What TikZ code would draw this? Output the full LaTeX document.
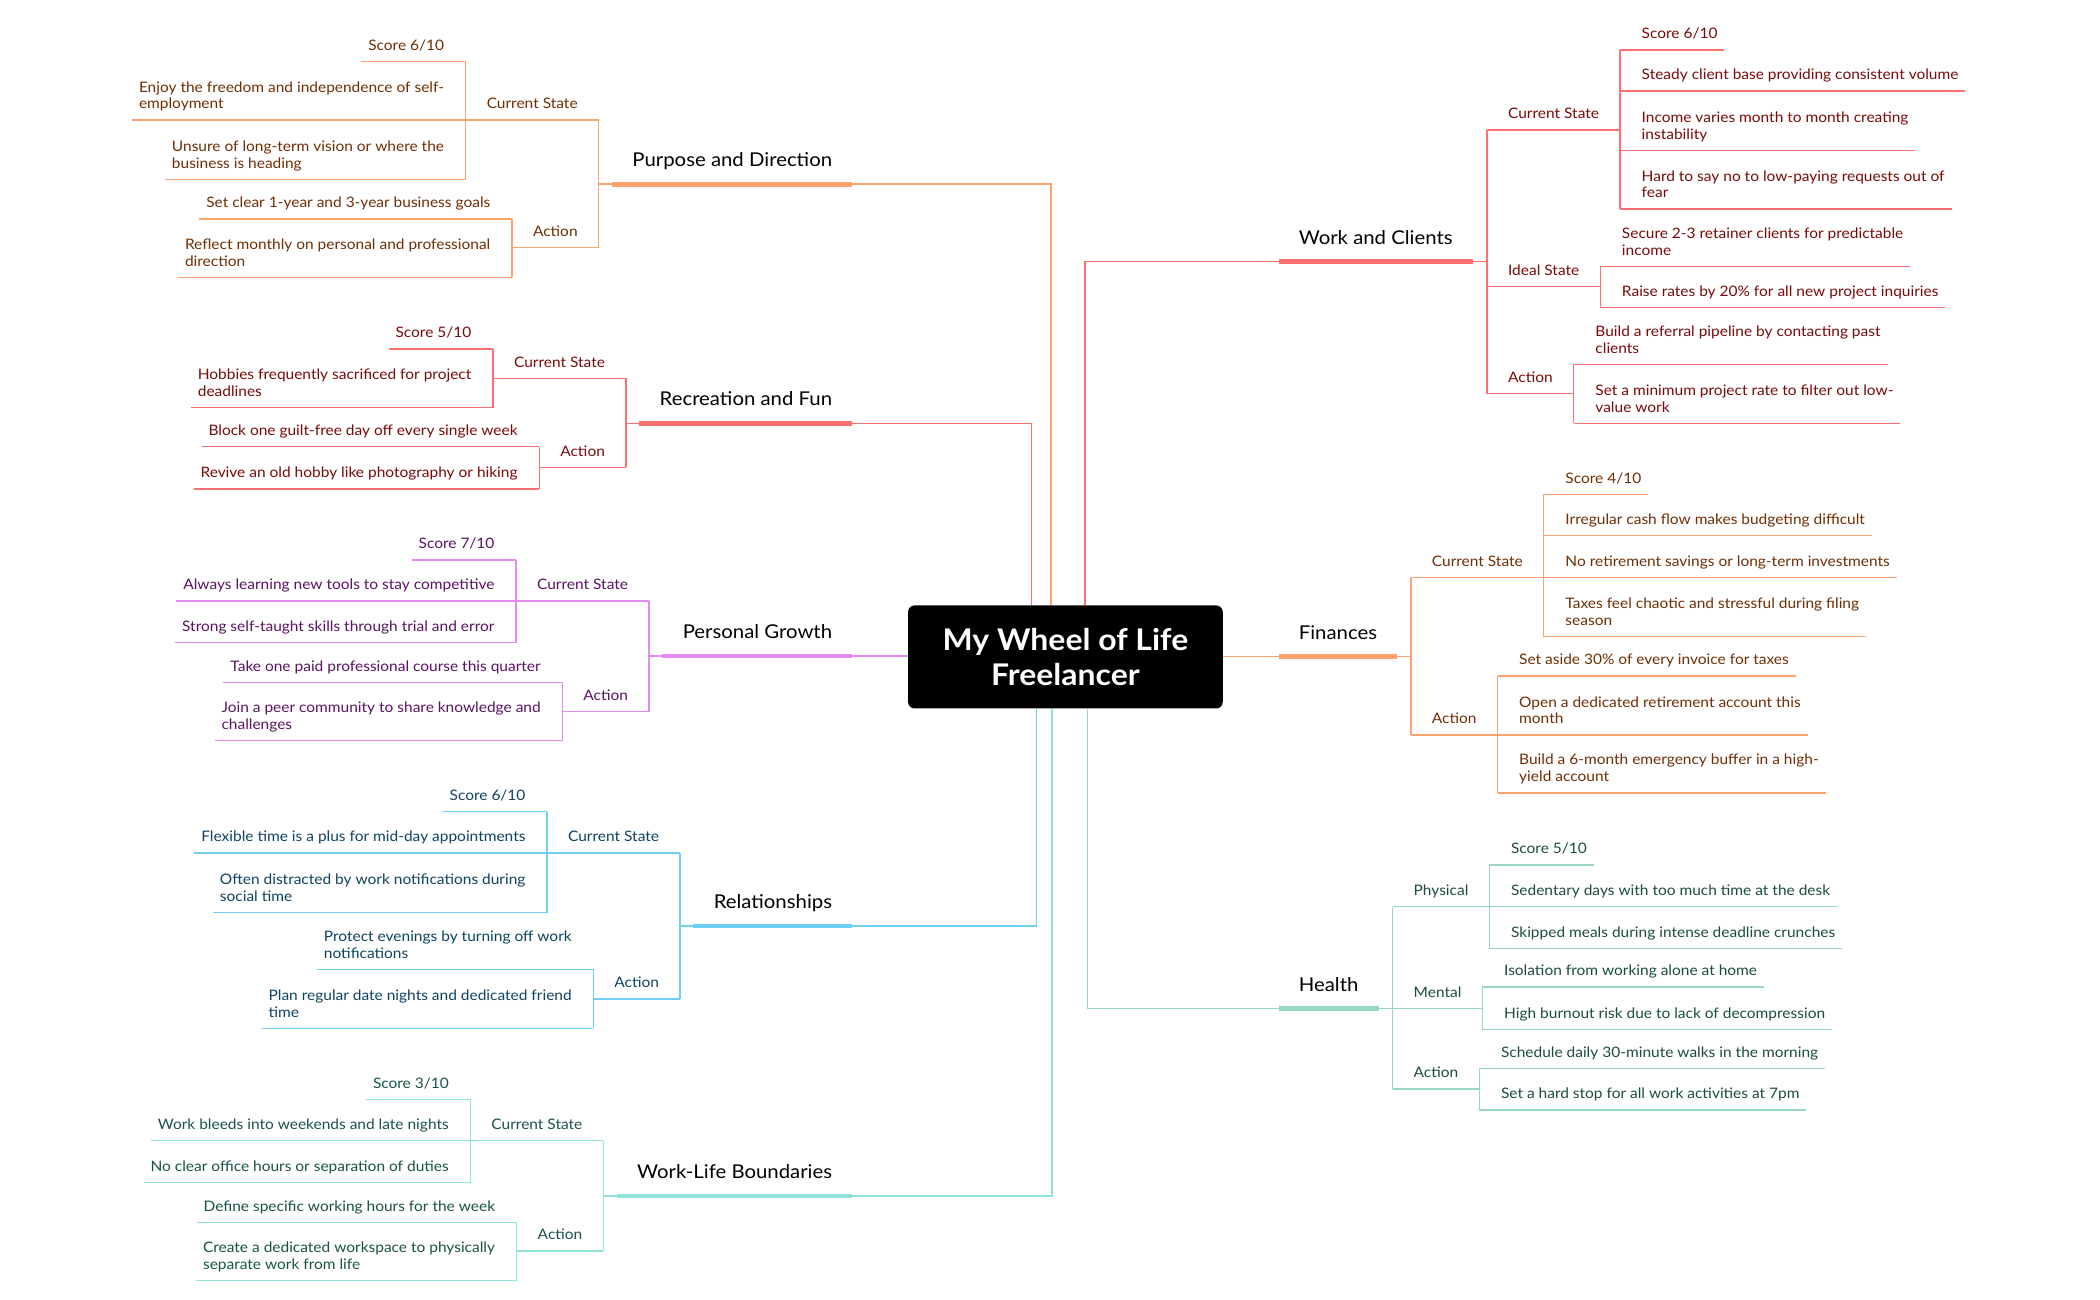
\documentclass[tikz,border=0pt]{standalone}
\usepackage{fontspec}
\setmainfont{Lato}[FakeStretch=1.07]
\usetikzlibrary{calc}
\definecolor{lOr}{HTML}{FFA26F}
\definecolor{lRd}{HTML}{FF6F6F}
\definecolor{lVi}{HTML}{E48BEF}
\definecolor{lBl}{HTML}{70CFF7}
\definecolor{lTe}{HTML}{8FE3D9}
\definecolor{lGr}{HTML}{97D8BF}
\definecolor{tOr}{HTML}{6F2E05}
\definecolor{tRd}{HTML}{780A0A}
\definecolor{tVi}{HTML}{5A1263}
\definecolor{tBl}{HTML}{0E4360}
\definecolor{tTe}{HTML}{195248}
\definecolor{tGr}{HTML}{1B4D3A}
\newcommand\myleaffont{\fontsize{10.8}{12.5}\selectfont}
\newcommand\myheadfont{\fontsize{14.2}{17}\selectfont}
\tikzset{
  conn/.style={draw=#1, line width=1pt},
  lvbar/.style={draw=#1, line width=3.5pt},
  leafL/.style={font=\myleaffont, text=#1, align=left, inner xsep=5pt, inner ysep=4.4pt, anchor=south east, execute at end node=\strut},
  leafR/.style={font=\myleaffont, text=#1, align=left, inner xsep=5pt, inner ysep=4.4pt, anchor=south west, execute at end node=\strut},
  lvtwoL/.style={font=\myleaffont, text=#1, inner xsep=15.5pt, inner ysep=4.4pt, anchor=south east, execute at end node=\strut},
  lvtwoR/.style={font=\myleaffont, text=#1, inner xsep=15.5pt, inner ysep=4.4pt, anchor=south west, execute at end node=\strut},
  lvoneL/.style={font=\myheadfont, text=black, inner xsep=15pt, inner ysep=7.6pt, anchor=south east, execute at end node=\strut},
  lvoneR/.style={font=\myheadfont, text=black, inner xsep=15pt, inner ysep=7.6pt, anchor=south west, execute at end node=\strut},
  rootbox/.style={fill=black, rounded corners=5pt, text=white, font=\fontsize{22.3}{26}\selectfont\bfseries, align=center, minimum width=235pt, minimum height=77pt, inner sep=0pt}
}
\begin{document}
\begin{tikzpicture}[x=1pt,y=-1pt]
\fill[white] (0,0) rectangle (1568,970);
\useasboundingbox (0,0) rectangle (1568,970);

\node[rootbox] (root) at (795.5,490.5) {My Wheel of Life\\Freelancer};

% ===== LEFT: Purpose and Direction =====
\node[lvoneL] (pd) at (636.5,137.5) {Purpose and Direction};
\coordinate (pdS) at ($(pd.south west)+(-10,0)$);
\node[lvtwoL=tOr] (pdc) at (pdS |- 0,89.6) {Current State};
\node[lvtwoL=tOr] (pda) at (pdS |- 0,185) {Action};
\node[leafL=tOr, xshift=-11pt] (pdc1) at (pdc.south west |- 0,46) {Score 6/10};
\node[leafL=tOr, xshift=-11pt] (pdc2) at (pdc.south west |- 0,89.6) {Enjoy the freedom and independence of self-\\employment};
\node[leafL=tOr, xshift=-11pt] (pdc3) at (pdc.south west |- 0,133.8) {Unsure of long-term vision or where the\\business is heading};
\node[leafL=tOr, xshift=-11pt] (pda1) at (pda.south west |- 0,163.5) {Set clear 1-year and 3-year business goals};
\node[leafL=tOr, xshift=-11pt] (pda2) at (pda.south west |- 0,207) {Reflect monthly on personal and professional\\direction};

% ===== LEFT: Recreation and Fun =====
\node[lvoneL] (rf) at (636.5,316) {Recreation and Fun};
\coordinate (rfS) at ($(rf.south west)+(-10,0)$);
\node[lvtwoL=tRd] (rfc) at (rfS |- 0,282.5) {Current State};
\node[lvtwoL=tRd] (rfa) at (rfS |- 0,349) {Action};
\node[leafL=tRd, xshift=-11pt] (rfc1) at (rfc.south west |- 0,260.6) {Score 5/10};
\node[leafL=tRd, xshift=-11pt] (rfc2) at (rfc.south west |- 0,304.4) {Hobbies frequently sacrificed for project\\deadlines};
\node[leafL=tRd, xshift=-11pt] (rfa1) at (rfa.south west |- 0,333.5) {Block one guilt-free day off every single week};
\node[leafL=tRd, xshift=-11pt] (rfa2) at (rfa.south west |- 0,365) {Revive an old hobby like photography or hiking};

% ===== LEFT: Personal Growth =====
\node[lvoneL] (pg) at (636.5,489.8) {Personal Growth};
\coordinate (pgS) at ($(pg.south west)+(-10,0)$);
\node[lvtwoL=tVi] (pgc) at (pgS |- 0,448.7) {Current State};
\node[lvtwoL=tVi] (pga) at (pgS |- 0,531.4) {Action};
\node[leafL=tVi, xshift=-11pt] (pgc1) at (pgc.south west |- 0,418) {Score 7/10};
\node[leafL=tVi, xshift=-11pt] (pgc2) at (pgc.south west |- 0,448.7) {Always learning new tools to stay competitive};
\node[leafL=tVi, xshift=-11pt] (pgc3) at (pgc.south west |- 0,479.9) {Strong self-taught skills through trial and error};
\node[leafL=tVi, xshift=-11pt] (pga1) at (pga.south west |- 0,509.5) {Take one paid professional course this quarter};
\node[leafL=tVi, xshift=-11pt] (pga2) at (pga.south west |- 0,553) {Join a peer community to share knowledge and\\challenges};

% ===== LEFT: Relationships =====
\node[lvoneL] (rs) at (636.5,691.4) {Relationships};
\coordinate (rsS) at ($(rs.south west)+(-10,0)$);
\node[lvtwoL=tBl] (rsc) at (rsS |- 0,637) {Current State};
\node[lvtwoL=tBl] (rsa) at (rsS |- 0,746) {Action};
\node[leafL=tBl, xshift=-11pt] (rsc1) at (rsc.south west |- 0,606) {Score 6/10};
\node[leafL=tBl, xshift=-11pt] (rsc2) at (rsc.south west |- 0,637) {Flexible time is a plus for mid-day appointments};
\node[leafL=tBl, xshift=-11pt] (rsc3) at (rsc.south west |- 0,681.5) {Often distracted by work notifications during\\social time};
\node[leafL=tBl, xshift=-11pt] (rsa1) at (rsa.south west |- 0,723.7) {Protect evenings by turning off work\\notifications};
\node[leafL=tBl, xshift=-11pt] (rsa2) at (rsa.south west |- 0,767.8) {Plan regular date nights and dedicated friend\\time};

% ===== LEFT: Work-Life Boundaries =====
\node[lvoneL] (wl) at (636.5,893) {Work-Life Boundaries};
\coordinate (wlS) at ($(wl.south west)+(-10,0)$);
\node[lvtwoL=tTe] (wlc) at (wlS |- 0,851.7) {Current State};
\node[lvtwoL=tTe] (wla) at (wlS |- 0,934) {Action};
\node[leafL=tTe, xshift=-11pt] (wlc1) at (wlc.south west |- 0,820.8) {Score 3/10};
\node[leafL=tTe, xshift=-11pt] (wlc2) at (wlc.south west |- 0,851.7) {Work bleeds into weekends and late nights};
\node[leafL=tTe, xshift=-11pt] (wlc3) at (wlc.south west |- 0,883) {No clear office hours or separation of duties};
\node[leafL=tTe, xshift=-11pt] (wla1) at (wla.south west |- 0,912.6) {Define specific working hours for the week};
\node[leafL=tTe, xshift=-11pt] (wla2) at (wla.south west |- 0,956.2) {Create a dedicated workspace to physically\\separate work from life};

% ===== RIGHT: Work and Clients =====
\node[lvoneR] (wc) at (954.6,195.4) {Work and Clients};
\coordinate (wcS) at ($(wc.south east)+(10.5,0)$);
\node[lvtwoR=tRd] (wcc) at (wcS |- 0,97) {Current State};
\node[lvtwoR=tRd] (wci) at (wcS |- 0,214) {Ideal State};
\node[lvtwoR=tRd] (wca) at (wcS |- 0,294) {Action};
\node[leafR=tRd, xshift=11pt] (wcc1) at (wcc.south east |- 0,37.3) {Score 6/10};
\node[leafR=tRd, xshift=11pt] (wcc2) at (wcc.south east |- 0,68) {Steady client base providing consistent volume};
\node[leafR=tRd, xshift=11pt] (wcc3) at (wcc.south east |- 0,112.5) {Income varies month to month creating\\instability};
\node[leafR=tRd, xshift=11pt] (wcc4) at (wcc.south east |- 0,156) {Hard to say no to low-paying requests out of\\fear};
\node[leafR=tRd, xshift=11pt] (wci1) at (wci.south east |- 0,199) {Secure 2-3 retainer clients for predictable\\income};
\node[leafR=tRd, xshift=11pt] (wci2) at (wci.south east |- 0,229.7) {Raise rates by 20\% for all new project inquiries};
\node[leafR=tRd, xshift=11pt] (wca1) at (wca.south east |- 0,272) {Build a referral pipeline by contacting past\\clients};
\node[leafR=tRd, xshift=11pt] (wca2) at (wca.south east |- 0,316) {Set a minimum project rate to filter out low-\\value work};

% ===== RIGHT: Finances =====
\node[lvoneR] (fi) at (954.6,490.3) {Finances};
\coordinate (fiS) at ($(fi.south east)+(10,0)$);
\node[lvtwoR=tOr] (fic) at (fiS |- 0,431.3) {Current State};
\node[lvtwoR=tOr] (fia) at (fiS |- 0,548.8) {Action};
\node[leafR=tOr, xshift=11pt] (fic1) at (fic.south east |- 0,369) {Score 4/10};
\node[leafR=tOr, xshift=11pt] (fic2) at (fic.south east |- 0,400) {Irregular cash flow makes budgeting difficult};
\node[leafR=tOr, xshift=11pt] (fic3) at (fic.south east |- 0,431.3) {No retirement savings or long-term investments};
\node[leafR=tOr, xshift=11pt] (fic4) at (fic.south east |- 0,475.4) {Taxes feel chaotic and stressful during filing\\season};
\node[leafR=tOr, xshift=11pt] (fia1) at (fia.south east |- 0,504.7) {Set aside 30\% of every invoice for taxes};
\node[leafR=tOr, xshift=11pt] (fia2) at (fia.south east |- 0,548.8) {Open a dedicated retirement account this\\month};
\node[leafR=tOr, xshift=11pt] (fia3) at (fia.south east |- 0,592) {Build a 6-month emergency buffer in a high-\\yield account};

% ===== RIGHT: Health =====
\node[lvoneR] (he) at (954.6,752.9) {Health};
\coordinate (heS) at ($(he.south east)+(10.4,0)$);
\node[lvtwoR=tGr] (hep) at (heS |- 0,677) {Physical};
\node[lvtwoR=tGr] (hem) at (heS |- 0,752.9) {Mental};
\node[lvtwoR=tGr] (hea) at (heS |- 0,813) {Action};
\node[leafR=tGr, xshift=11pt] (hep1) at (hep.south east |- 0,645.9) {Score 5/10};
\node[leafR=tGr, xshift=11pt] (hep2) at (hep.south east |- 0,677) {Sedentary days with too much time at the desk};
\node[leafR=tGr, xshift=11pt] (hep3) at (hep.south east |- 0,708) {Skipped meals during intense deadline crunches};
\node[leafR=tGr, xshift=11pt] (hem1) at (hem.south east |- 0,737) {Isolation from working alone at home};
\node[leafR=tGr, xshift=11pt] (hem2) at (hem.south east |- 0,768.5) {High burnout risk due to lack of decompression};
\node[leafR=tGr, xshift=11pt] (hea1) at (hea.south east |- 0,797.7) {Schedule daily 30-minute walks in the morning};
\node[leafR=tGr, xshift=11pt] (hea2) at (hea.south east |- 0,828.8) {Set a hard stop for all work activities at 7pm};

% ===== CONNECTORS LEFT =====
% Purpose
\draw[conn=lOr] (pd.south east) -| (root.north -| 784.7,0);
\draw[conn=lOr] (pd.south west) -- (pdS);
\draw[conn=lOr] (pdc.south east) -- (pda.south east);
\foreach \n in {pdc,pda} \draw[conn=lOr] (\n.south west) -- (\n.south east);
\foreach \n in {pdc1,pdc2,pdc3} \draw[conn=lOr] (\n.south west) -- (\n.south -| pdc.south west);
\draw[conn=lOr] (pdc1.south -| pdc.south west) -- (pdc3.south -| pdc.south west);
\foreach \n in {pda1,pda2} \draw[conn=lOr] (\n.south west) -- (\n.south -| pda.south west);
\draw[conn=lOr] (pda1.south -| pda.south west) -- (pda2.south -| pda.south west);
\draw[lvbar=lOr] (pd.south west) -- (pd.south east);
% Recreation
\draw[conn=lRd] (rf.south east) -| (root.north -| 770,0);
\draw[conn=lRd] (rf.south west) -- (rfS);
\draw[conn=lRd] (rfc.south east) -- (rfa.south east);
\foreach \n in {rfc,rfa} \draw[conn=lRd] (\n.south west) -- (\n.south east);
\foreach \n in {rfc1,rfc2} \draw[conn=lRd] (\n.south west) -- (\n.south -| rfc.south west);
\draw[conn=lRd] (rfc1.south -| rfc.south west) -- (rfc2.south -| rfc.south west);
\foreach \n in {rfa1,rfa2} \draw[conn=lRd] (\n.south west) -- (\n.south -| rfa.south west);
\draw[conn=lRd] (rfa1.south -| rfa.south west) -- (rfa2.south -| rfa.south west);
\draw[lvbar=lRd] (rf.south west) -- (rf.south east);
% Personal Growth
\draw[conn=lVi] (pg.south east) -- (pg.south east -| root.west);
\draw[conn=lVi] (pg.south west) -- (pgS);
\draw[conn=lVi] (pgc.south east) -- (pga.south east);
\foreach \n in {pgc,pga} \draw[conn=lVi] (\n.south west) -- (\n.south east);
\foreach \n in {pgc1,pgc2,pgc3} \draw[conn=lVi] (\n.south west) -- (\n.south -| pgc.south west);
\draw[conn=lVi] (pgc1.south -| pgc.south west) -- (pgc3.south -| pgc.south west);
\foreach \n in {pga1,pga2} \draw[conn=lVi] (\n.south west) -- (\n.south -| pga.south west);
\draw[conn=lVi] (pga1.south -| pga.south west) -- (pga2.south -| pga.south west);
\draw[lvbar=lVi] (pg.south west) -- (pg.south east);
% Relationships
\draw[conn=lBl] (rs.south east) -| (root.south -| 774,0);
\draw[conn=lBl] (rs.south west) -- (rsS);
\draw[conn=lBl] (rsc.south east) -- (rsa.south east);
\foreach \n in {rsc,rsa} \draw[conn=lBl] (\n.south west) -- (\n.south east);
\foreach \n in {rsc1,rsc2,rsc3} \draw[conn=lBl] (\n.south west) -- (\n.south -| rsc.south west);
\draw[conn=lBl] (rsc1.south -| rsc.south west) -- (rsc3.south -| rsc.south west);
\foreach \n in {rsa1,rsa2} \draw[conn=lBl] (\n.south west) -- (\n.south -| rsa.south west);
\draw[conn=lBl] (rsa1.south -| rsa.south west) -- (rsa2.south -| rsa.south west);
\draw[lvbar=lBl] (rs.south west) -- (rs.south east);
% Work-Life
\draw[conn=lTe] (wl.south east) -| (root.south -| 785.5,0);
\draw[conn=lTe] (wl.south west) -- (wlS);
\draw[conn=lTe] (wlc.south east) -- (wla.south east);
\foreach \n in {wlc,wla} \draw[conn=lTe] (\n.south west) -- (\n.south east);
\foreach \n in {wlc1,wlc2,wlc3} \draw[conn=lTe] (\n.south west) -- (\n.south -| wlc.south west);
\draw[conn=lTe] (wlc1.south -| wlc.south west) -- (wlc3.south -| wlc.south west);
\foreach \n in {wla1,wla2} \draw[conn=lTe] (\n.south west) -- (\n.south -| wla.south west);
\draw[conn=lTe] (wla1.south -| wla.south west) -- (wla2.south -| wla.south west);
\draw[lvbar=lTe] (wl.south west) -- (wl.south east);

% ===== CONNECTORS RIGHT =====
% Work and Clients
\draw[conn=lRd] (wc.south west) -| (root.north -| 810,0);
\draw[conn=lRd] (wc.south east) -- (wcS);
\draw[conn=lRd] (wcc.south west) -- (wca.south west);
\foreach \n in {wcc,wci,wca} \draw[conn=lRd] (\n.south west) -- (\n.south east);
\foreach \n in {wcc1,wcc2,wcc3,wcc4} \draw[conn=lRd] (\n.south east) -- (\n.south -| wcc.south east);
\draw[conn=lRd] (wcc1.south -| wcc.south east) -- (wcc4.south -| wcc.south east);
\foreach \n in {wci1,wci2} \draw[conn=lRd] (\n.south east) -- (\n.south -| wci.south east);
\draw[conn=lRd] (wci1.south -| wci.south east) -- (wci2.south -| wci.south east);
\foreach \n in {wca1,wca2} \draw[conn=lRd] (\n.south east) -- (\n.south -| wca.south east);
\draw[conn=lRd] (wca1.south -| wca.south east) -- (wca2.south -| wca.south east);
\draw[lvbar=lRd] (wc.south west) -- (wc.south east);
% Finances
\draw[conn=lOr] (fi.south west -| root.east) -- (fi.south west);
\draw[conn=lOr] (fi.south east) -- (fiS);
\draw[conn=lOr] (fic.south west) -- (fia.south west);
\foreach \n in {fic,fia} \draw[conn=lOr] (\n.south west) -- (\n.south east);
\foreach \n in {fic1,fic2,fic3,fic4} \draw[conn=lOr] (\n.south east) -- (\n.south -| fic.south east);
\draw[conn=lOr] (fic1.south -| fic.south east) -- (fic4.south -| fic.south east);
\foreach \n in {fia1,fia2,fia3} \draw[conn=lOr] (\n.south east) -- (\n.south -| fia.south east);
\draw[conn=lOr] (fia1.south -| fia.south east) -- (fia3.south -| fia.south east);
\draw[lvbar=lOr] (fi.south west) -- (fi.south east);
% Health
\draw[conn=lGr] (he.south west) -| (root.south -| 812,0);
\draw[conn=lGr] (he.south east) -- (heS);
\draw[conn=lGr] (hep.south west) -- (hea.south west);
\foreach \n in {hep,hem,hea} \draw[conn=lGr] (\n.south west) -- (\n.south east);
\foreach \n in {hep1,hep2,hep3} \draw[conn=lGr] (\n.south east) -- (\n.south -| hep.south east);
\draw[conn=lGr] (hep1.south -| hep.south east) -- (hep3.south -| hep.south east);
\foreach \n in {hem1,hem2} \draw[conn=lGr] (\n.south east) -- (\n.south -| hem.south east);
\draw[conn=lGr] (hem1.south -| hem.south east) -- (hem2.south -| hem.south east);
\foreach \n in {hea1,hea2} \draw[conn=lGr] (\n.south east) -- (\n.south -| hea.south east);
\draw[conn=lGr] (hea1.south -| hea.south east) -- (hea2.south -| hea.south east);
\draw[lvbar=lGr] (he.south west) -- (he.south east);
\end{tikzpicture}
\end{document}
